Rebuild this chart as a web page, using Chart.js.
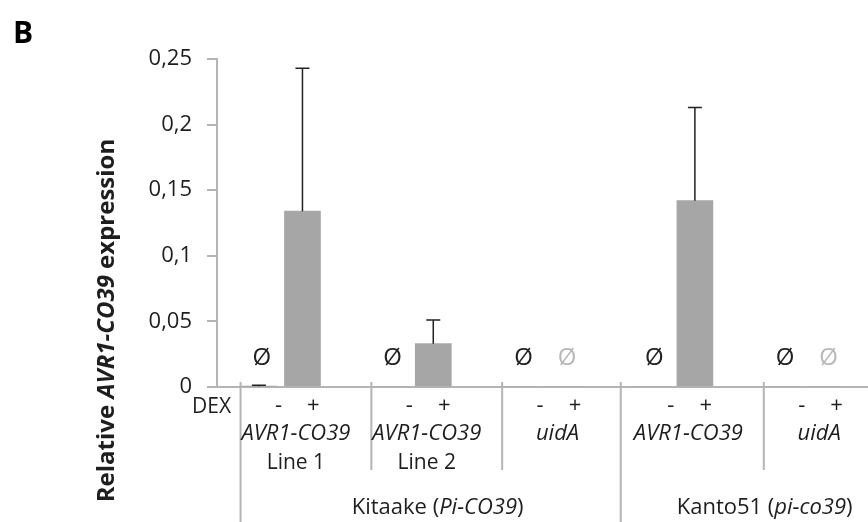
<!DOCTYPE html>
<html>
<head>
<meta charset="utf-8">
<script src="https://cdn.jsdelivr.net/npm/chart.js@4"></script>
<style>
  body { margin: 0; background: #fff; }
  canvas { display: block; }
</style>
</head>
<body>
<canvas id="exprChart" width="868" height="522"></canvas>
<script>
// Data (panel B)
const constructs = ["AVR1-CO39", "AVR1-CO39", "uidA", "AVR1-CO39", "uidA"];
const lineNames = ["Line 1", "Line 2", "", "", ""];
const backgrounds = ["Kitaake", "Kanto51"];
const alleles = ["Pi-CO39", "pi-co39"];
const groupBackground = [0, 0, 0, 1, 1];
const dexLevels = ["-", "+"];

// one value per construct x DEX (-, +)
const expression = [0.0005, 0.134, 0, 0.033, 0, 0, 0, 0.142, 0, 0];
const errorUp = [0.0008, 0.109, 0, 0.018, 0, 0, 0, 0.071, 0, 0];
// "not detected" marks drawn above the empty bars
const ndMarks = ["dark", "", "dark", "", "dark", "light", "dark", "", "dark", "light"];

const yTicks = [0, 0.05, 0.1, 0.15, 0.2, 0.25];

const FONT = "'Open Sans', sans-serif";
const TEXT = "#1e1e1e";
const AXIS_GRAY = "#b4b4b4";

// slot index on the x scale: 3 slots per construct (-, +, gap)
function slotOf(i) {
    return Math.floor(i / 2) * 3 + (i % 2);
}

const points = expression.map((v, i) => ({ x: slotOf(i), y: v }));

// draw text pieces [text, italic] one after another
function drawPieces(ctx, pieces, x, y, size, weight, align) {
    let total = 0;
    pieces.forEach(p => {
        ctx.font = (p[1] ? "italic " : "") + weight + " " + size + "px " + FONT;
        total += ctx.measureText(p[0]).width;
    });
    let cx = align === "center" ? x - total / 2 : x;
    ctx.textAlign = "left";
    pieces.forEach(p => {
        ctx.font = (p[1] ? "italic " : "") + weight + " " + size + "px " + FONT;
        ctx.fillText(p[0], cx, y);
        cx += ctx.measureText(p[0]).width;
    });
}

const decorations = {
    id: "decorations",
    afterDatasetsDraw(chart) {
        const ctx = chart.ctx;
        const ys = chart.scales.y;
        const meta = chart.getDatasetMeta(0);
        ctx.save();

        // error bars (upper only)
        ctx.strokeStyle = "#222";
        ctx.lineWidth = 1.5;
        expression.forEach((v, i) => {
            if (!errorUp[i]) return;
            const bx = meta.data[i].x;
            const y0 = ys.getPixelForValue(v);
            const y1 = ys.getPixelForValue(v + errorUp[i]);
            ctx.beginPath();
            ctx.moveTo(bx, y0);
            ctx.lineTo(bx, y1);
            ctx.moveTo(bx - 7, y1);
            ctx.lineTo(bx + 7, y1);
            ctx.stroke();
        });

        // not-detected marks
        ctx.textAlign = "center";
        ctx.textBaseline = "middle";
        ctx.font = "24px " + FONT;
        ndMarks.forEach((m, i) => {
            if (!m) return;
            ctx.fillStyle = m === "dark" ? "#222" : "#b8b8b8";
            ctx.fillText("\u00D8", meta.data[i].x + 3, ys.getPixelForValue(0) - 29);
        });
        ctx.restore();
    },
    afterDraw(chart) {
        const ctx = chart.ctx;
        const xs = chart.scales.x;
        const ys = chart.scales.y;
        const area = chart.chartArea;
        const yAxis = ys.getPixelForValue(0);
        ctx.save();

        // group dividers below the axis
        ctx.strokeStyle = AXIS_GRAY;
        ctx.lineWidth = 2;
        constructs.forEach((c, g) => {
            const first = g === 0 || groupBackground[g] !== groupBackground[g - 1];
            const dx = xs.getPixelForValue(g * 3 - (first && g > 0 ? 0.7 : 0.42));
            ctx.beginPath();
            ctx.moveTo(dx, yAxis - 5);
            ctx.lineTo(dx, first ? chart.height : yAxis + 83);
            ctx.stroke();
        });

        ctx.fillStyle = TEXT;
        ctx.textBaseline = "middle";

        // DEX row label
        ctx.textAlign = "left";
        ctx.font = "21px " + FONT;
        ctx.fillText("DEX", 192, yAxis + 20);

        constructs.forEach((c, g) => {
            const mid = g * 3 + 0.5 + 0.35;
            ctx.textAlign = "center";
            ctx.font = "22px " + FONT;
            ctx.fillText(dexLevels[0], xs.getPixelForValue(mid - 0.4), yAxis + 19);
            ctx.fillText(dexLevels[1], xs.getPixelForValue(mid + 0.4), yAxis + 19);
            ctx.font = "italic 22px " + FONT;
            ctx.fillText(c, xs.getPixelForValue(mid), yAxis + 47);
            if (lineNames[g]) {
                ctx.font = "21px " + FONT;
                ctx.fillText(lineNames[g], xs.getPixelForValue(mid), yAxis + 76);
            }
        });

        // genetic background labels
        backgrounds.forEach((b, k) => {
            const groups = groupBackground.map((v, g) => v === k ? g : -1).filter(g => g >= 0);
            const mean = groups.reduce((s, g) => s + g * 3 + 0.5, 0) / groups.length;
            drawPieces(ctx, [[b + " (", false], [alleles[k], true], [")", false]],
                xs.getPixelForValue(mean + 0.6), yAxis + 121, 22, "normal", "center");
        });

        // y axis title
        ctx.save();
        ctx.translate(107, (area.top + chart.height) / 2 + 30);
        ctx.rotate(-Math.PI / 2);
        drawPieces(ctx, [["Relative ", false], ["AVR1-CO39", true], [" expression", false]],
            0, 0, 24, "bold", "center");
        ctx.restore();

        // panel letter
        ctx.textAlign = "left";
        ctx.textBaseline = "alphabetic";
        ctx.font = "bold 30px " + FONT;
        ctx.fillStyle = "#000";
        ctx.fillText("B", 13, 43);
        ctx.restore();
    }
};

new Chart(document.getElementById("exprChart").getContext("2d"), {
    type: "bar",
    data: {
        datasets: [{
            data: points,
            backgroundColor: "#a6a6a6",
            barThickness: 36
        }]
    },
    options: {
        responsive: false,
        devicePixelRatio: 1,
        animation: false,
        layout: { padding: { left: 0, right: 0, top: 59, bottom: 135 } },
        plugins: { legend: { display: false }, tooltip: { enabled: false } },
        scales: {
            x: {
                type: "linear",
                offset: false,
                min: -0.96,
                max: 13.97,
                grid: { display: false },
                ticks: { display: false },
                border: { color: AXIS_GRAY, width: 2 },
                afterFit(scale) { scale.height = 0; }
            },
            y: {
                min: 0,
                max: 0.25,
                afterBuildTicks(scale) { scale.ticks = yTicks.map(v => ({ value: v })); },
                grid: { drawOnChartArea: false, drawTicks: true, tickLength: 10, color: AXIS_GRAY, lineWidth: 2 },
                border: { color: AXIS_GRAY, width: 2 },
                ticks: {
                    padding: 15,
                    color: TEXT,
                    font: { family: FONT, size: 22 },
                    callback: v => String(Math.round(v * 100) / 100).replace(".", ",")
                },
                afterFit(scale) { scale.width = 217; }
            }
        }
    },
    plugins: [decorations]
});
</script>
</body>
</html>
